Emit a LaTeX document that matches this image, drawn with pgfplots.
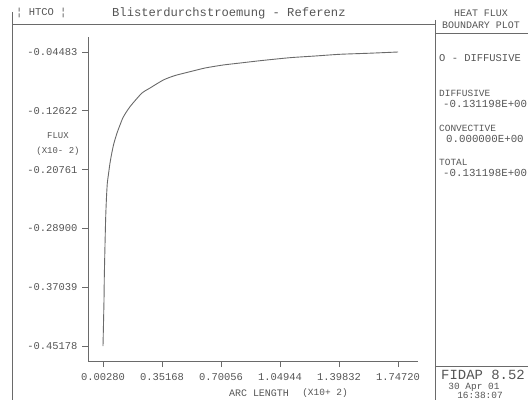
\documentclass[border=0pt]{standalone}
\usepackage{fontspec}
\setmainfont{Liberation Mono}
\usepackage{pgfplots}
\pgfplotsset{compat=1.18}
\definecolor{txt}{HTML}{555555}
\definecolor{ln}{HTML}{6A6A6A}
\newcommand{\fs}[1]{\fontsize{#1}{#1}\selectfont}
\begin{document}
\begin{tikzpicture}[x=1bp,y=1bp]
\useasboundingbox (0,0) rectangle (528,400);
% frame
\draw[ln,line width=0.9bp] (12,388) -- (12,0);
\draw[ln,line width=0.9bp] (12,376) -- (435,376);
\draw[ln,line width=0.9bp] (435,380) -- (435,0);
\draw[ln,line width=0.9bp] (435,367) -- (528,367);
\draw[ln,line width=0.9bp] (435,34) -- (528,34);
% header texts
\node[txt,anchor=west,inner sep=0] at (16,387) {\fs{10.5}¦ HTCO ¦};
\node[txt,anchor=west,inner sep=0] at (112,387) {\fs{12.2}Blisterdurchstroemung - Referenz};
\node[txt,inner sep=0] at (481,387) {\fs{10}HEAT FLUX};
\node[txt,inner sep=0] at (481,375) {\fs{10}BOUNDARY PLOT};
\node[txt,anchor=west,inner sep=0] at (439,342) {\fs{10.5}O - DIFFUSIVE};
\node[txt,anchor=west,inner sep=0] at (439,307) {\fs{9.5}DIFFUSIVE};
\node[txt,anchor=west,inner sep=0] at (443,296) {\fs{10.8}-0.131198E+00};
\node[txt,anchor=west,inner sep=0] at (439,272) {\fs{9.5}CONVECTIVE};
\node[txt,anchor=west,inner sep=0] at (446,261) {\fs{10.8}0.000000E+00};
\node[txt,anchor=west,inner sep=0] at (439,238) {\fs{9.5}TOTAL};
\node[txt,anchor=west,inner sep=0] at (443,227) {\fs{10.8}-0.131198E+00};
\node[txt,inner sep=0] at (483,25) {\fs{14}FIDAP 8.52};
\node[txt,inner sep=0] at (474,13) {\fs{9.5}30 Apr 01};
\node[txt,inner sep=0] at (480,5) {\fs{9.5}16:38:07};
% axis labels
\node[txt,inner sep=0] at (58,264) {\fs{9}FLUX};
\node[txt,inner sep=0] at (58,249) {\fs{9}(X10- 2)};
\node[txt,inner sep=0] at (259,7) {\fs{10}ARC LENGTH};
\node[txt,inner sep=0] at (325,7) {\fs{9.5}(X10+ 2)};
\begin{axis}[
  at={(88bp,39bp)}, anchor=south west,
  scale only axis, width=330bp, height=324bp,
  xmin=-0.0859, xmax=1.8654,
  ymin=-0.4725, ymax=-0.02407,
  axis lines=left,
  axis line style={-, ln, line width=0.9bp},
  tick align=outside,
  major tick length=6bp,
  tick style={ln, line width=0.9bp},
  xtick={0.0028,0.35168,0.70056,1.04944,1.39832,1.7472},
  xticklabels={\textrm{0.00280},\textrm{0.35168},\textrm{0.70056},\textrm{1.04944},\textrm{1.39832},\textrm{1.74720}},
  ytick={-0.45178,-0.37039,-0.289,-0.20761,-0.12622,-0.04483},
  yticklabels={\textrm{-0.45178},\textrm{-0.37039},\textrm{-0.28900},\textrm{-0.20761},\textrm{-0.12622},\textrm{-0.04483}},
  ticklabel style={font=\fs{10.5}, text=txt},
  xticklabel style={yshift=-3bp},
  yticklabel style={xshift=-1bp},
  clip=false,
]
\addplot[ln, line width=0.9bp, smooth, tension=0.4] coordinates {
(0.0028,-0.45178)
(0.0087,-0.3881)
(0.0105,-0.3559)
(0.0146,-0.3120)
(0.0188,-0.2728)
(0.0235,-0.2455)
(0.0282,-0.2266)
(0.0341,-0.2158)
(0.0442,-0.1985)
(0.0560,-0.1832)
(0.0678,-0.1708)
(0.0856,-0.1570)
(0.1033,-0.1459)
(0.1228,-0.1348)
(0.1625,-0.1205)
(0.2316,-0.1020)
(0.2807,-0.0947)
(0.3594,-0.0836)
(0.4286,-0.0774)
(0.5172,-0.0721)
(0.6059,-0.0670)
(0.7141,-0.0628)
(0.8129,-0.0601)
(0.9311,-0.0569)
(1.1085,-0.0527)
(1.2563,-0.0504)
(1.4042,-0.0480)
(1.5816,-0.0465)
(1.7472,-0.04483)
};
\end{axis}
\end{tikzpicture}
\end{document}
